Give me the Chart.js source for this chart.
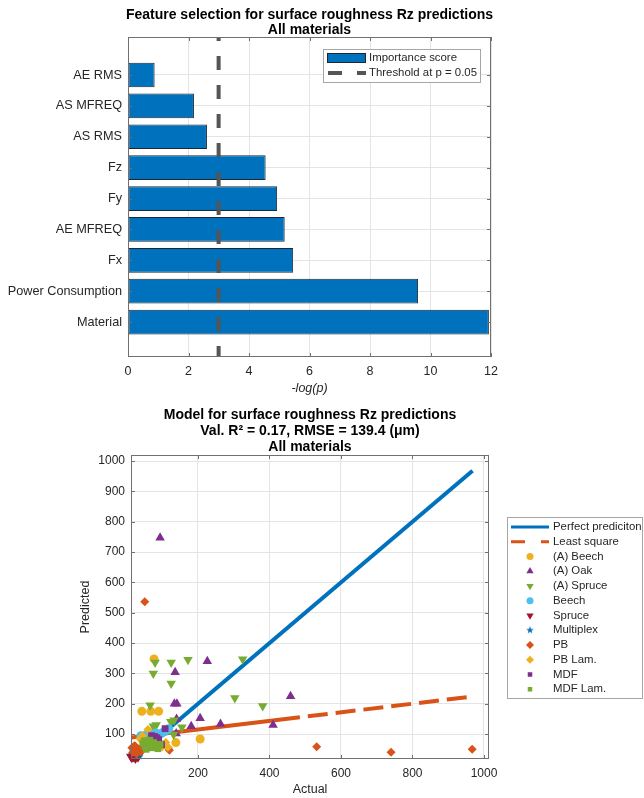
<!DOCTYPE html>
<html>
<head>
<meta charset="utf-8">
<script src="https://cdn.jsdelivr.net/npm/chart.js@4.4.1/dist/chart.umd.min.js"></script>
<style>
  html, body { margin: 0; padding: 0; background: #ffffff; }
  #wrap { position: relative; width: 644px; height: 798px; overflow: hidden; }
  canvas { position: absolute; left: 0; }
</style>
</head>
<body>
<div id="wrap">
  <canvas id="featureChart" width="644" height="398" style="top:0px"></canvas>
  <canvas id="modelChart" width="644" height="400" style="top:398px"></canvas>
</div>
<script>
// ---------- Feature importance (-log p), bottom to top ----------
const features = ['Material', 'Power Consumption', 'Fx', 'AE MFREQ', 'Fy', 'Fz', 'AS RMS', 'AS MFREQ', 'AE RMS'];
const importance = [11.93, 9.59, 5.46, 5.18, 4.93, 4.55, 2.61, 2.18, 0.88];
const pThreshold = 0.05;
const featureTicks = [0, 2, 4, 6, 8, 10, 12];

// ---------- Model predictions: actual vs. predicted Rz (µm) ----------
const aBeechActual    = [77, 43, 68, 90, 206, 138, 46, 55, 62, 45];
const aBeechPred      = [348, 175, 175, 175, 84, 72, 91, 75, 68, 80];
const aOakActual      = [94, 136, 134, 141, 226, 206, 263, 181, 410, 459, 139, 140];
const aOakPred        = [747, 304, 200, 200, 340, 152, 133, 126, 130, 225, 102, 150];
const aSpruceActual   = [80, 125, 172, 325, 75, 125, 66, 303, 381, 83, 133, 155, 132, 75, 124];
const aSprucePred     = [336, 336, 345, 347, 300, 267, 195, 219, 193, 130, 146, 123, 99, 126, 141];
const beechActual     = [40, 48, 55, 62, 68, 75, 82, 90, 98, 105, 112, 60, 86, 118];
const beechPred       = [95, 88, 98, 92, 100, 95, 104, 98, 103, 108, 112, 85, 90, 118];
const spruceActual    = [15, 20, 25, 18, 28, 22, 32, 12, 35];
const sprucePred      = [22, 25, 20, 30, 28, 35, 24, 26, 30];
const multiplexActual = [30, 38, 34, 36];
const multiplexPred   = [35, 40, 30, 36];
const pbActual        = [51, 532, 740, 967, 15, 20, 25, 30, 18, 35, 40, 28, 45, 120, 22, 117];
const pbPred          = [536, 58, 40, 50, 55, 48, 60, 45, 40, 52, 42, 35, 58, 47, 62, 54];
const pbLamActual     = [60, 45, 55, 70, 80, 100, 110, 116, 38];
const pbLamPred       = [115, 95, 70, 62, 66, 58, 72, 57, 85];
const mdfActual       = [108, 79, 95, 75, 85, 98, 70, 90];
const mdfPred         = [118, 92, 67, 90, 88, 65, 95, 82];
const mdfLamActual    = [46, 52, 58, 64, 70, 76, 82, 88, 55, 65, 50, 94];
const mdfLamPred      = [70, 60, 75, 65, 55, 72, 60, 52, 50, 80, 78, 66];

// Reference lines
const perfectX = [14, 968];
const perfectY = [14, 968];
const lsqX = [14, 485, 968];
const lsqY = [89, 155.6, 224];
const lsqDashFrom = 485;

const actualTicks = [200, 400, 600, 800, 1000];
const predictedTicks = [100, 200, 300, 400, 500, 600, 700, 800, 900, 1000];

// ---------- shared styling ----------
const FONT = "'Liberation Sans', Arial, Helvetica, sans-serif";
const TEXT = '#262626';
const GRID = '#e4e4e4';
const FRAME = '#707070';
const C = {
  blue: '#0072BD', orange: '#D95319', yellow: '#EDB120', purple: '#7E2F8E',
  green: '#77AC30', cyan: '#4DBEEE', red: '#A2142F'
};

function zip(xs, ys) { return xs.map((x, i) => ({ x: x, y: ys[i] })); }

function makeStar(size, color) {
  const c = document.createElement('canvas');
  c.width = size; c.height = size;
  const g = c.getContext('2d');
  const cx = size / 2, cy = size / 2, R = size / 2, r = R * 0.40;
  g.beginPath();
  for (let i = 0; i < 10; i++) {
    const ang = -Math.PI / 2 + i * Math.PI / 5;
    const rad = i % 2 === 0 ? R : r;
    const px = cx + rad * Math.cos(ang), py = cy + rad * Math.sin(ang);
    if (i === 0) g.moveTo(px, py); else g.lineTo(px, py);
  }
  g.closePath();
  g.fillStyle = color;
  g.fill();
  return c;
}

function drawMarker(ctx, style, x, y, radius, rotation, color) {
  ctx.save();
  ctx.fillStyle = color;
  ctx.strokeStyle = color;
  ctx.lineWidth = 0;
  if (Chart.helpers && Chart.helpers.drawPoint) {
    Chart.helpers.drawPoint(ctx, { pointStyle: style, radius: radius, rotation: rotation || 0, borderWidth: 0 }, x, y);
  } else {
    ctx.beginPath(); ctx.arc(x, y, radius, 0, Math.PI * 2); ctx.fill();
  }
  ctx.restore();
}

// Axes box with inward tick marks on all four sides
const frameTicks = {
  id: 'frameTicks',
  afterDatasetsDraw(chart) {
    const { ctx, chartArea: a, scales } = chart;
    const L = 4;
    ctx.save();
    ctx.strokeStyle = FRAME;
    ctx.lineWidth = 1;
    ctx.beginPath();
    scales.x.ticks.forEach(t => {
      const p = Math.round(scales.x.getPixelForValue(t.value)) + 0.5;
      ctx.moveTo(p, a.bottom); ctx.lineTo(p, a.bottom - L);
      ctx.moveTo(p, a.top); ctx.lineTo(p, a.top + L);
    });
    scales.y.ticks.forEach(t => {
      const p = Math.round(scales.y.getPixelForValue(t.value)) + 0.5;
      ctx.moveTo(a.left, p); ctx.lineTo(a.left + L, p);
      ctx.moveTo(a.right, p); ctx.lineTo(a.right - L, p);
    });
    ctx.stroke();
    ctx.strokeRect(Math.round(a.left) + 0.5, Math.round(a.top) + 0.5,
      Math.round(a.right - a.left) - 1, Math.round(a.bottom - a.top) - 1);
    ctx.restore();
  }
};

// Multi-line bold heading centred over the plotting area
const headings = {
  id: 'headings',
  afterDraw(chart, args, opts) {
    const { ctx, chartArea: a } = chart;
    const cx = (a.left + a.right) / 2;
    ctx.save();
    ctx.fillStyle = '#000000';
    ctx.font = 'bold ' + opts.size + 'px ' + FONT;
    ctx.textAlign = 'center';
    ctx.textBaseline = 'middle';
    opts.lines.forEach((t, i) => ctx.fillText(t, cx, opts.ys[i]));
    ctx.restore();
  }
};

// ---------- Feature selection chart ----------
const featureLegend = {
  id: 'featureLegend',
  afterDraw(chart) {
    const ctx = chart.ctx;
    ctx.save();
    ctx.fillStyle = '#ffffff';
    ctx.fillRect(323, 49, 157, 33);
    ctx.strokeStyle = '#a6a6a6';
    ctx.lineWidth = 1;
    ctx.strokeRect(323.5, 49.5, 157, 33);
    // bar swatch
    ctx.fillStyle = C.blue;
    ctx.fillRect(327, 53, 39, 10);
    ctx.strokeStyle = '#1b2733';
    ctx.strokeRect(327.5, 53.5, 38, 9);
    // dashed line swatch
    ctx.strokeStyle = '#555555';
    ctx.lineWidth = 4;
    ctx.setLineDash([14, 15]);
    ctx.beginPath(); ctx.moveTo(328, 73); ctx.lineTo(366, 73); ctx.stroke();
    ctx.setLineDash([]);
    ctx.fillStyle = TEXT;
    ctx.font = '11.4px ' + FONT;
    ctx.textAlign = 'left';
    ctx.textBaseline = 'middle';
    ctx.fillText('Importance score', 369, 58);
    ctx.fillText('Threshold at p = ' + pThreshold.toFixed(2), 369, 73);
    ctx.restore();
  }
};

const yFeatMin = -0.13, yFeatMax = 10.23;
const threshold = -Math.log(pThreshold);

new Chart(document.getElementById('featureChart'), {
  type: 'bar',
  data: {
    datasets: [
      {
        type: 'bar',
        label: 'Importance score',
        data: importance.map((v, i) => ({ x: v, y: i + 1 })),
        backgroundColor: C.blue,
        borderColor: '#1b2733',
        borderWidth: 1,
        borderSkipped: false,
        barPercentage: 0.8,
        categoryPercentage: 1.0,
        order: 1
      },
      {
        type: 'line',
        label: 'Threshold at p = 0.05',
        data: [{ x: threshold, y: yFeatMin }, { x: threshold, y: yFeatMax }],
        borderColor: '#555555',
        borderWidth: 4,
        borderDash: [14, 15],
        borderDashOffset: 3,
        borderCapStyle: 'butt',
        pointRadius: 0,
        fill: false,
        order: 0
      }
    ]
  },
  options: {
    indexAxis: 'y',
    responsive: false,
    animation: false,
    events: [],
    layout: { padding: { top: 37, right: 153, left: 0, bottom: 0 } },
    scales: {
      x: {
        type: 'linear',
        min: 0, max: 12,
        afterBuildTicks: s => { s.ticks = featureTicks.map(v => ({ value: v })); },
        afterFit: s => { s.height = 41; },
        grid: { color: GRID, drawTicks: false },
        border: { display: false },
        ticks: { color: TEXT, font: { family: FONT, size: 12.5 }, padding: 7, maxRotation: 0, callback: v => String(v) },
        title: { display: true, text: '-log(p)', color: TEXT, font: { family: FONT, size: 12.5, style: 'italic' }, padding: { top: 0, bottom: 2 } }
      },
      y: {
        type: 'linear',
        offset: false,
        min: yFeatMin, max: yFeatMax,
        afterBuildTicks: s => { s.ticks = features.map((f, i) => ({ value: i + 1 })); },
        afterFit: s => { s.width = 128; },
        grid: { color: GRID, drawTicks: false, offset: false },
        border: { display: false },
        ticks: {
          color: TEXT, font: { family: FONT, size: 12.7 }, padding: 6, autoSkip: false,
          callback: v => features[Math.round(v) - 1] || ''
        }
      }
    },
    plugins: {
      legend: { display: false },
      tooltip: { enabled: false },
      headings: { lines: ['Feature selection for surface roughness Rz predictions', 'All materials'], ys: [15, 30], size: 14 }
    }
  },
  plugins: [frameTicks, headings, featureLegend]
});

// ---------- Model chart ----------
const seriesDefs = [
  { label: '(A) Beech',  xs: aBeechActual,    ys: aBeechPred,    color: C.yellow, style: 'circle',   r: 4.5, rot: 0,   lr: 3.5 },
  { label: '(A) Oak',    xs: aOakActual,      ys: aOakPred,      color: C.purple, style: 'triangle', r: 5.5, rot: 0,   lr: 4.2 },
  { label: '(A) Spruce', xs: aSpruceActual,   ys: aSprucePred,   color: C.green,  style: 'triangle', r: 5.5, rot: 180, lr: 4.2 },
  { label: 'Beech',      xs: beechActual,     ys: beechPred,     color: C.cyan,   style: 'circle',   r: 4.5, rot: 0,   lr: 3.5 },
  { label: 'Spruce',     xs: spruceActual,    ys: sprucePred,    color: C.red,    style: 'triangle', r: 5.5, rot: 180, lr: 4.2 },
  { label: 'Multiplex',  xs: multiplexActual, ys: multiplexPred, color: C.blue,   style: 'star',     r: 4,   rot: 0,   lr: 3 },
  { label: 'PB',         xs: pbActual,        ys: pbPred,        color: C.orange, style: 'rectRot',  r: 4.5, rot: 0,   lr: 4 },
  { label: 'PB Lam.',    xs: pbLamActual,     ys: pbLamPred,     color: C.yellow, style: 'rectRot',  r: 4.5, rot: 0,   lr: 4 },
  { label: 'MDF',        xs: mdfActual,       ys: mdfPred,       color: C.purple, style: 'rect',     r: 4.8, rot: 0,   lr: 3.2 },
  { label: 'MDF Lam.',   xs: mdfLamActual,    ys: mdfLamPred,    color: C.green,  style: 'rect',     r: 4.8, rot: 0,   lr: 3.2 }
];

const starPoint = makeStar(10, C.blue);
const starLegend = makeStar(8, C.blue);

const scatterSets = seriesDefs.map((s, i) => ({
  type: 'scatter',
  label: s.label,
  data: zip(s.xs, s.ys),
  pointStyle: s.style === 'star' ? starPoint : s.style,
  pointRotation: s.rot,
  pointRadius: s.r,
  pointBackgroundColor: s.color,
  pointBorderColor: s.color,
  pointBorderWidth: 0,
  showLine: false,
  clip: false,
  order: 15 - i
}));

const lineSets = [
  {
    type: 'line',
    label: 'Perfect prediciton',
    data: zip(perfectX, perfectY),
    borderColor: C.blue,
    borderWidth: 4,
    pointRadius: 0,
    fill: false,
    order: 30
  },
  {
    type: 'line',
    label: 'Least square',
    data: zip(lsqX, lsqY),
    borderColor: C.orange,
    borderWidth: 4,
    borderCapStyle: 'butt',
    pointRadius: 0,
    fill: false,
    segment: {
      borderDash: c => (c.p0.parsed.x >= lsqDashFrom ? [20, 8] : []),
      borderDashOffset: c => (c.p0.parsed.x >= lsqDashFrom ? 20 : 0)
    },
    order: 29
  }
];

const modelLegend = {
  id: 'modelLegend',
  afterDraw(chart) {
    const ctx = chart.ctx;
    const bx = 507, by = 119, bw = 135, bh = 181;
    const y0 = 129, step = 14.75;
    ctx.save();
    ctx.fillStyle = '#ffffff';
    ctx.fillRect(bx, by, bw, bh);
    ctx.strokeStyle = '#a6a6a6';
    ctx.lineWidth = 1;
    ctx.strokeRect(bx + 0.5, by + 0.5, bw, bh);

    ctx.font = '11.4px ' + FONT;
    ctx.textAlign = 'left';
    ctx.textBaseline = 'middle';

    // line entries
    ctx.lineCap = 'butt';
    ctx.lineWidth = 3;
    ctx.strokeStyle = C.blue;
    ctx.beginPath(); ctx.moveTo(511, y0); ctx.lineTo(549, y0); ctx.stroke();
    ctx.strokeStyle = C.orange;
    ctx.setLineDash([14, 16]);
    ctx.beginPath(); ctx.moveTo(511, y0 + step); ctx.lineTo(549, y0 + step); ctx.stroke();
    ctx.setLineDash([]);
    ctx.fillStyle = TEXT;
    ctx.fillText(lineSets[0].label, 553, y0);
    ctx.fillText(lineSets[1].label, 553, y0 + step);

    // marker entries
    seriesDefs.forEach((s, i) => {
      const y = y0 + step * (i + 2);
      const style = s.style === 'star' ? starLegend : s.style;
      drawMarker(ctx, style, 530, y, s.lr, s.rot, s.color);
      ctx.fillStyle = TEXT;
      ctx.fillText(s.label, 553, y);
    });
    ctx.restore();
  }
};

new Chart(document.getElementById('modelChart'), {
  type: 'scatter',
  data: { datasets: [...lineSets, ...scatterSets] },
  options: {
    responsive: false,
    animation: false,
    events: [],
    layout: { padding: { top: 57, right: 155, left: 0, bottom: 0 } },
    scales: {
      x: {
        type: 'linear',
        min: 12.6, max: 1014,
        afterBuildTicks: s => { s.ticks = actualTicks.map(v => ({ value: v })); },
        afterFit: s => { s.height = 39; },
        grid: { color: GRID, drawTicks: false },
        border: { display: false },
        ticks: { color: TEXT, font: { family: FONT, size: 12 }, padding: 7, maxRotation: 0, callback: v => String(v) },
        title: { display: true, text: 'Actual', color: TEXT, font: { family: FONT, size: 12.5 }, padding: { top: 0, bottom: 1 } }
      },
      y: {
        type: 'linear',
        min: 18, max: 1020,
        afterBuildTicks: s => { s.ticks = predictedTicks.map(v => ({ value: v })); },
        afterFit: s => { s.width = 131; },
        grid: { color: GRID, drawTicks: false },
        border: { display: false },
        ticks: { color: TEXT, font: { family: FONT, size: 12 }, padding: 6, callback: v => String(v) },
        title: { display: true, text: 'Predicted', color: TEXT, font: { family: FONT, size: 12.5 }, padding: { top: 78, bottom: 0 } }
      }
    },
    plugins: {
      legend: { display: false },
      tooltip: { enabled: false },
      headings: {
        lines: ['Model for surface roughness Rz predictions', 'Val. R\u00B2 = 0.17, RMSE = 139.4 (\u03BCm)', 'All materials'],
        ys: [17, 33, 49],
        size: 14
      }
    }
  },
  plugins: [frameTicks, headings, modelLegend]
});
</script>
</body>
</html>
